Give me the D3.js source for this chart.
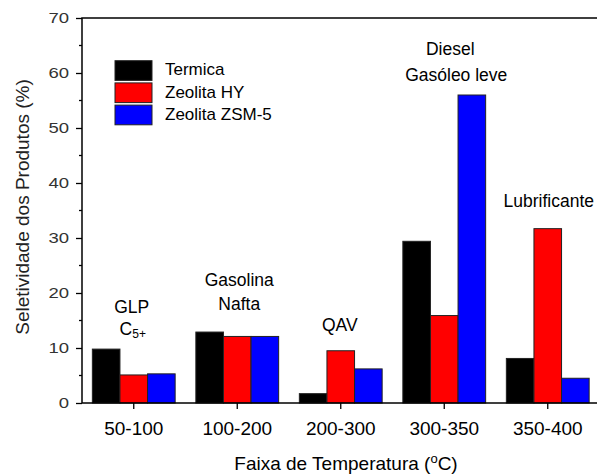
<!DOCTYPE html>
<html><head><meta charset="utf-8">
<script src="https://cdn.jsdelivr.net/npm/d3@7"></script>
<style>body{margin:0;background:#fff}svg{display:block}text{font-family:"Liberation Sans",Arial,sans-serif}</style>
</head><body>
<script>
const categories = ["50-100","100-200","200-300","300-350","350-400"];
const seriesNames = ["Termica","Zeolita HY","Zeolita ZSM-5"];
const termica = [9.8, 12.9, 1.7, 29.4, 8.1];
const zeolitaHY = [5.1, 12.1, 9.5, 15.9, 31.7];
const zeolitaZSM5 = [5.3, 12.1, 6.2, 56.0, 4.5];
const yTicks = [0,10,20,30,40,50,60,70];
const colors = ["#000000","#ff0000","#0000ff"];
const series = [termica, zeolitaHY, zeolitaZSM5];

const W=597,H=474;
const svg=d3.select("body").append("svg").attr("width",W).attr("height",H);
const x=d3.scaleBand().domain(categories).range([82,599.5]).paddingInner(0).paddingOuter(0);
const xs=d3.scaleBand().domain(seriesNames).range([0,x.bandwidth()]).paddingInner(0).paddingOuter(0.375);
const y=d3.scaleLinear().domain([0,70]).range([403,18]);

// bars
categories.forEach((c,i)=>{
  const g=svg.append("g").attr("transform",`translate(${x(c)},0)`);
  series.forEach((s,j)=>{
    g.append("rect").attr("x",xs(seriesNames[j])).attr("y",y(s[i]))
     .attr("width",xs.bandwidth()).attr("height",y(0)-y(s[i]))
     .attr("fill",colors[j]).attr("stroke","#222").attr("stroke-width",1);
  });
});

// frame
svg.append("rect").attr("x",82).attr("y",18).attr("width",517.5).attr("height",385)
  .attr("fill","none").attr("stroke","#000").attr("stroke-width",1.5);

// y axis
const ya=svg.append("g").attr("transform","translate(82,0)")
  .call(d3.axisLeft(y).tickValues(yTicks).tickSize(6).tickPadding(7));
ya.select(".domain").remove();
ya.selectAll("text").attr("font-size",14.5).attr("fill","#333")
  .attr("textLength",d=>String(d).length*10.3).attr("lengthAdjust","spacingAndGlyphs");
ya.selectAll("line").attr("stroke","#000").attr("stroke-width",1.3);
const minor=d3.range(5,70,10);
svg.append("g").selectAll("line").data(minor).join("line")
  .attr("x1",79).attr("x2",82).attr("y1",d=>y(d)).attr("y2",d=>y(d)).attr("stroke","#000").attr("stroke-width",1.3);

// x axis
const xa=svg.append("g").attr("transform","translate(0,403)")
  .call(d3.axisBottom(x).tickSize(6).tickPadding(13));
xa.select(".domain").remove();
xa.selectAll("text").attr("font-size",19).attr("fill","#000");
xa.selectAll("line").attr("stroke","#000").attr("stroke-width",1.3);

// axis titles
svg.append("text").attr("transform","translate(29,207) rotate(-90)").attr("text-anchor","middle")
  .attr("font-size",19).attr("fill","#222").text("Seletividade dos Produtos (%)");
const xt=svg.append("text").attr("x",346).attr("y",470).attr("text-anchor","middle").attr("font-size",19).attr("fill","#000");
xt.append("tspan").text("Faixa de Temperatura (");
xt.append("tspan").attr("font-size",13).attr("dy",-7).text("o");
xt.append("tspan").attr("dy",7).text("C)");

// legend
const lg=svg.append("g");
seriesNames.forEach((n,j)=>{
  const yy=60.7+j*22.2;
  lg.append("rect").attr("x",115).attr("y",yy).attr("width",37).attr("height",19.7)
    .attr("fill",colors[j]).attr("stroke","#222").attr("stroke-width",1);
  lg.append("text").attr("x",165).attr("y",yy+14.6).attr("font-size",17).attr("fill","#000").text(n);
});

// annotations
function ann(tx,ty,t){return svg.append("text").attr("x",tx).attr("y",ty).attr("text-anchor","middle").attr("font-size",17.5).attr("fill","#000").text(t);}
const cx=c=>x(c)+x.bandwidth()/2;
ann(cx("50-100")-2,313,"GLP");
const c5=ann(cx("50-100")-1,335,"C");
c5.append("tspan").attr("font-size",12).attr("dy",3).text("5+");
ann(cx("100-200")+2,286,"Gasolina");
ann(cx("100-200")+2,310,"Nafta");
ann(cx("200-300")-1,331,"QAV");
ann(cx("300-350")+6,55,"Diesel");
ann(cx("300-350")+12,81,"Gasóleo leve");
ann(cx("350-400")+1,207,"Lubrificante");
</script>
</body></html>
